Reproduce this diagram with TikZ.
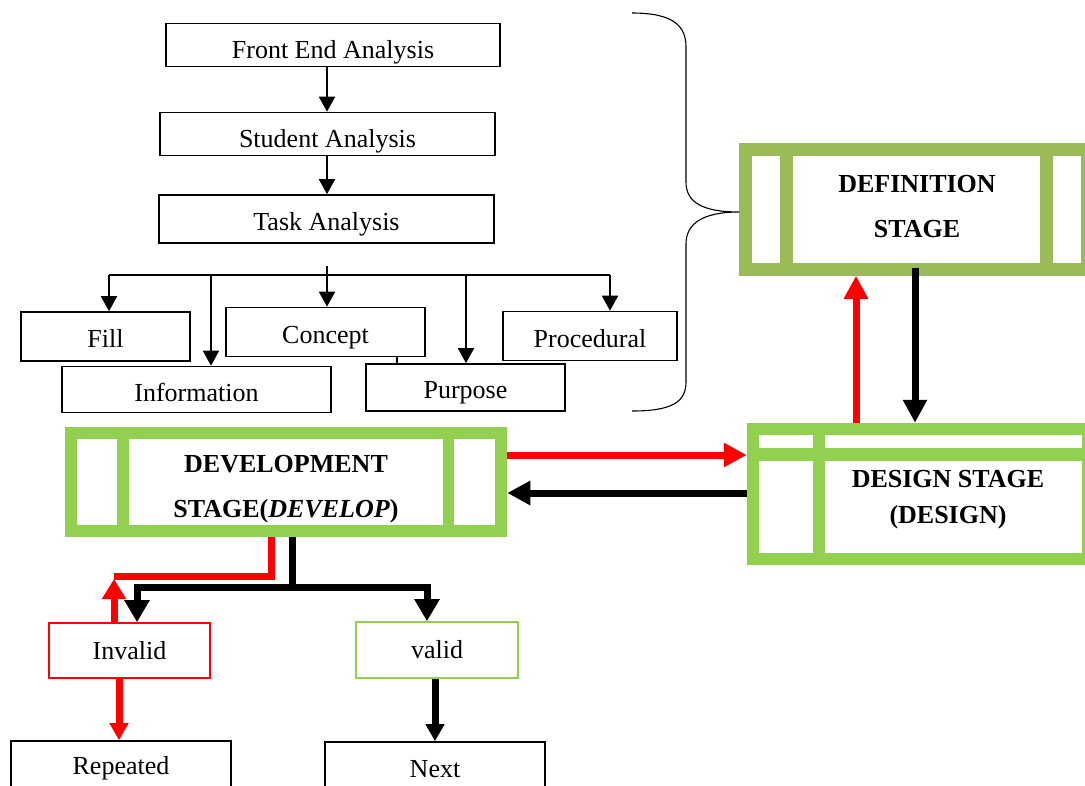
\documentclass[tikz,border=0pt]{standalone}
\usepackage{fontspec}
\setmainfont{Liberation Serif}
\usetikzlibrary{arrows.meta}
\definecolor{olivegreen}{HTML}{9BBB59}
\definecolor{lightgreen}{HTML}{92D050}
\definecolor{pureRed}{HTML}{FF0000}
\begin{document}
\begin{tikzpicture}[x=1pt,y=-1pt,
  box/.style={draw=black, line width=1.6pt, inner sep=0pt, font=\fontsize{26}{30}\selectfont},
  low/.style={text height=#1, text depth=0pt},
  smallbox/.style={draw=#1, line width=1.6pt, inner sep=0pt, font=\fontsize{26}{30}\selectfont},
  frame/.style={draw=#1, line width=12.5pt, inner sep=0pt},
  stagelbl/.style={align=center, inner sep=0pt, font=\fontsize{26}{#1}\selectfont\bfseries},
  thinarrow/.style={line width=1.8pt, -{Triangle[length=15pt,width=16pt]}},
  thinline/.style={line width=1.8pt},
  fatarrow/.style={line width=7pt, draw=#1, -{Triangle[length=23pt,width=23pt]}},
  fatline/.style={line width=7pt, draw=#1},
  medarrow/.style={line width=7pt, draw=#1, -{Triangle[length=17pt,width=18pt]}},
]
\useasboundingbox (0,0) rectangle (1085,785);
\clip (0,0) rectangle (1085,785);

% helper coordinates
\coordinate (x108) at (109,0);
\coordinate (x211) at (211,0);
\coordinate (x327) at (327,0);
\coordinate (x397) at (397,0);
\coordinate (x466) at (466,0);
\coordinate (x610) at (610,0);
\coordinate (x856) at (856,0);
\coordinate (x915) at (915,0);
\coordinate (y275) at (0,275);
\coordinate (y212) at (0,212);
\coordinate (y455) at (0,455);
\coordinate (y493) at (0,493);
\coordinate (x271) at (271,0);
\coordinate (x292) at (292,0);
\coordinate (x114) at (114,0);
\coordinate (x137) at (137,0);
\coordinate (x427) at (427,0);
\coordinate (x119) at (119,0);
\coordinate (x435) at (435,0);
\coordinate (y576) at (0,576);
\coordinate (y587) at (0,587);

% analysis chain
\node[box, low=26pt, minimum width=334pt, minimum height=43pt] (front) at (333,45) {Front End Analysis};
\node[box, low=27pt, minimum width=335pt, minimum height=43pt] (student) at (327.5,134) {Student Analysis};
\node[box, low=22pt, minimum width=335pt, minimum height=48pt] (task) at (326.5,219) {Task Analysis};

\node[box, low=22pt, minimum width=169pt, minimum height=49pt] (fill) at (105.5,336.5) {Fill};
\node[box, low=22pt, minimum width=199pt, minimum height=49pt] (concept) at (325.5,332) {Concept};
\node[box, low=22pt, minimum width=174pt, minimum height=49pt] (procedural) at (590,336) {Procedural};
\node[box, low=23pt, minimum width=269pt, minimum height=46pt] (information) at (196.5,389.5) {Information};
\node[box, low=22pt, minimum width=199pt, minimum height=47pt] (purpose) at (465.5,387.5) {Purpose};

\draw[thinarrow] (front.south -| x327) -- (student.north -| x327);
\draw[thinarrow] (student.south -| x327) -- (task.north -| x327);

\coordinate (branch) at (327,266);
\draw[thinline] (x108 |- y275) -- (x610 |- y275);
\draw[thinarrow] (branch) -- (concept.north -| x327);
\draw[thinarrow] (x108 |- y275) -- (fill.north -| x108);
\draw[thinarrow] (x211 |- y275) -- (information.north -| x211);
\draw[thinarrow] (x466 |- y275) -- (purpose.north -| x466);
\draw[thinarrow] (x610 |- y275) -- (procedural.north -| x610);
\draw[line width=1.4pt] (concept.south -| x397) -- (purpose.north -| x397);

% stage frames
\node[frame=olivegreen, minimum width=342pt, minimum height=120pt] (definition) at (916.5,209.5) {};
\fill[olivegreen] (780,149.5) rectangle (793,269.5);
\fill[olivegreen] (1040,149.5) rectangle (1053,269.5);
\node[stagelbl=45] (deflbl) at (917,207) {DEFINITION\\STAGE};

\node[frame=lightgreen, minimum width=335pt, minimum height=130pt] (design) at (920.5,494) {};
\fill[lightgreen] (813,429) rectangle (825,559);
\fill[lightgreen] (753,448) rectangle (1088,461);
\node[stagelbl=36] (deslbl) at (948,500) {DESIGN STAGE\\(DESIGN)};

\node[frame=lightgreen, minimum width=430pt, minimum height=98pt] (development) at (286,482) {};
\fill[lightgreen] (117,433) rectangle (129,531);
\fill[lightgreen] (443,433) rectangle (454,531);
\node[stagelbl=45] (devlbl) at (286,489) {DEVELOPMENT\\STAGE(\textit{DEVELOP})};

% brace
\coordinate (bracetip) at (definition.west |- y212);
\draw[line width=1.1pt] (632,13) .. controls (672,13) and (686,25) .. (686,47) -- (686,182)
  .. controls (686,202) and (702,212) .. (bracetip)
  .. controls (702,212) and (686,224) .. (686,244) -- (686,382)
  .. controls (686,402) and (672,411) .. (632,411);

% stage arrows
\draw[fatarrow=pureRed] (design.north -| x856) -- (definition.south -| x856);
\draw[fatarrow=black] ([yshift=8pt]definition.south -| x915) -- (design.north -| x915);
\draw[fatarrow=pureRed] (development.east |- y455) -- (design.west |- y455);
\draw[fatarrow=black] (design.west |- y493) -- (development.east |- y493);

% validation
\node[smallbox=pureRed, minimum width=161pt, minimum height=55pt] (invalid) at (129.5,650.5) {Invalid};
\node[smallbox=lightgreen, minimum width=162pt, minimum height=56pt] (valid) at (437,650) {valid};
\node[box, minimum width=220pt, minimum height=54pt] (repeated) at (121,768) {Repeated};
\node[box, minimum width=220pt, minimum height=54pt] (next) at (435,769) {Next};

\draw[fatline=pureRed] (development.south -| x271) |- (x114 |- y576);
\draw[line width=7pt, draw=pureRed, -{Triangle[length=20pt,width=23pt]}] (invalid.north -| x114) -- ([yshift=-3pt]x114 |- y576);
\draw[fatline=black] (development.south -| x292) -- (x292 |- y587);
\draw[line width=7pt, -{Triangle[length=22pt,width=24pt]}] (x292 |- y587) -| (invalid.north -| x137);
\draw[line width=7pt, -{Triangle[length=22pt,width=24pt]}] (x292 |- y587) -| (valid.north -| x427);
\draw[medarrow=pureRed] (invalid.south -| x119) -- (repeated.north -| x119);
\draw[medarrow=black] (valid.south -| x435) -- (next.north -| x435);
\end{tikzpicture}
\end{document}
